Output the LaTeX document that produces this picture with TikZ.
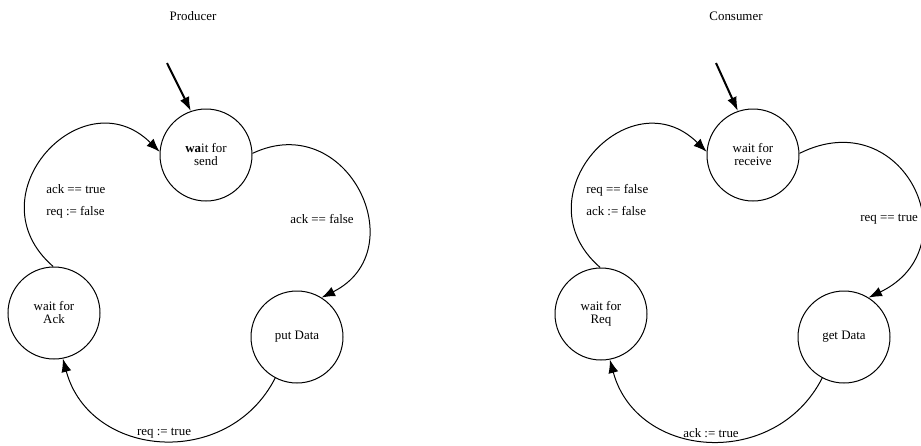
\documentclass[tikz,border=0pt]{standalone}
\usepackage{fontspec}
\setmainfont{Liberation Serif}
\usetikzlibrary{arrows.meta}
\begin{document}
\begin{tikzpicture}[x=0.75pt,y=-0.75pt,
  state/.style={circle,draw,line width=0.75pt,minimum size=69pt,inner sep=0pt,align=center,font=\fontsize{9.7pt}{9.75pt}\selectfont},
  lbl/.style={font=\fontsize{9.7pt}{16.5pt}\selectfont,inner sep=0pt},
  edge/.style={line width=0.75pt,-{Latex[length=10pt,width=7.5pt]}},
  init/.style={line width=1.5pt,-{Latex[length=10.5pt,width=7.5pt]}}]
\useasboundingbox (0,0) rectangle (921,446);
% Producer
\node[lbl] (ptitle) at (193,16) {Producer};
\node[state] (S) at (206,155) {\textbf{wa}it for\\send};
\node[state] (P) at (297,337) {put Data};
\node[state] (A) at (54,313) {wait for\\Ack};
\coordinate (S0) at (167,63);
\draw[init] (S0) -- (S.109);
\draw[edge] (S.2) .. controls +(95,-45) and +(94,-47) .. (P.58);
\draw[edge] (P.242) .. controls +(-47,92) and +(27,100) .. (A.281);
\draw[edge] (A.91) .. controls +(-82,-71) and +(-77,-76) .. (S.176);
\node[lbl,anchor=west] (l1) at (290,219) {ack == false};
\node[lbl] (l2) at (164,433) {req := true};
\node[lbl,anchor=west,align=left] (l3) at (46,201) {ack == true\\req := false};
% Consumer
\node[lbl] (ctitle) at (736,16) {Consumer};
\node[state] (R) at (753,155) {wait for\\receive};
\node[state] (G) at (844,337) {get Data};
\node[state] (Q) at (601,314) {wait for\\Req};
\coordinate (R0) at (716,63);
\draw[init] (R0) -- (R.109);
\draw[edge] (R.2) .. controls +(104,-52) and +(104,-50) .. (G.58);
\draw[edge] (G.242) .. controls +(-47,92) and +(27,100) .. (Q.281);
\draw[edge] (Q.91) .. controls +(-82,-71) and +(-77,-76) .. (R.176);
\node[lbl,anchor=west] (m1) at (860,219) {req == true};
\node[lbl] (m2) at (711,433) {ack := true};
\node[lbl,anchor=west,align=left] (m3) at (586,200) {req == false\\ack := false};
\end{tikzpicture}
\end{document}
